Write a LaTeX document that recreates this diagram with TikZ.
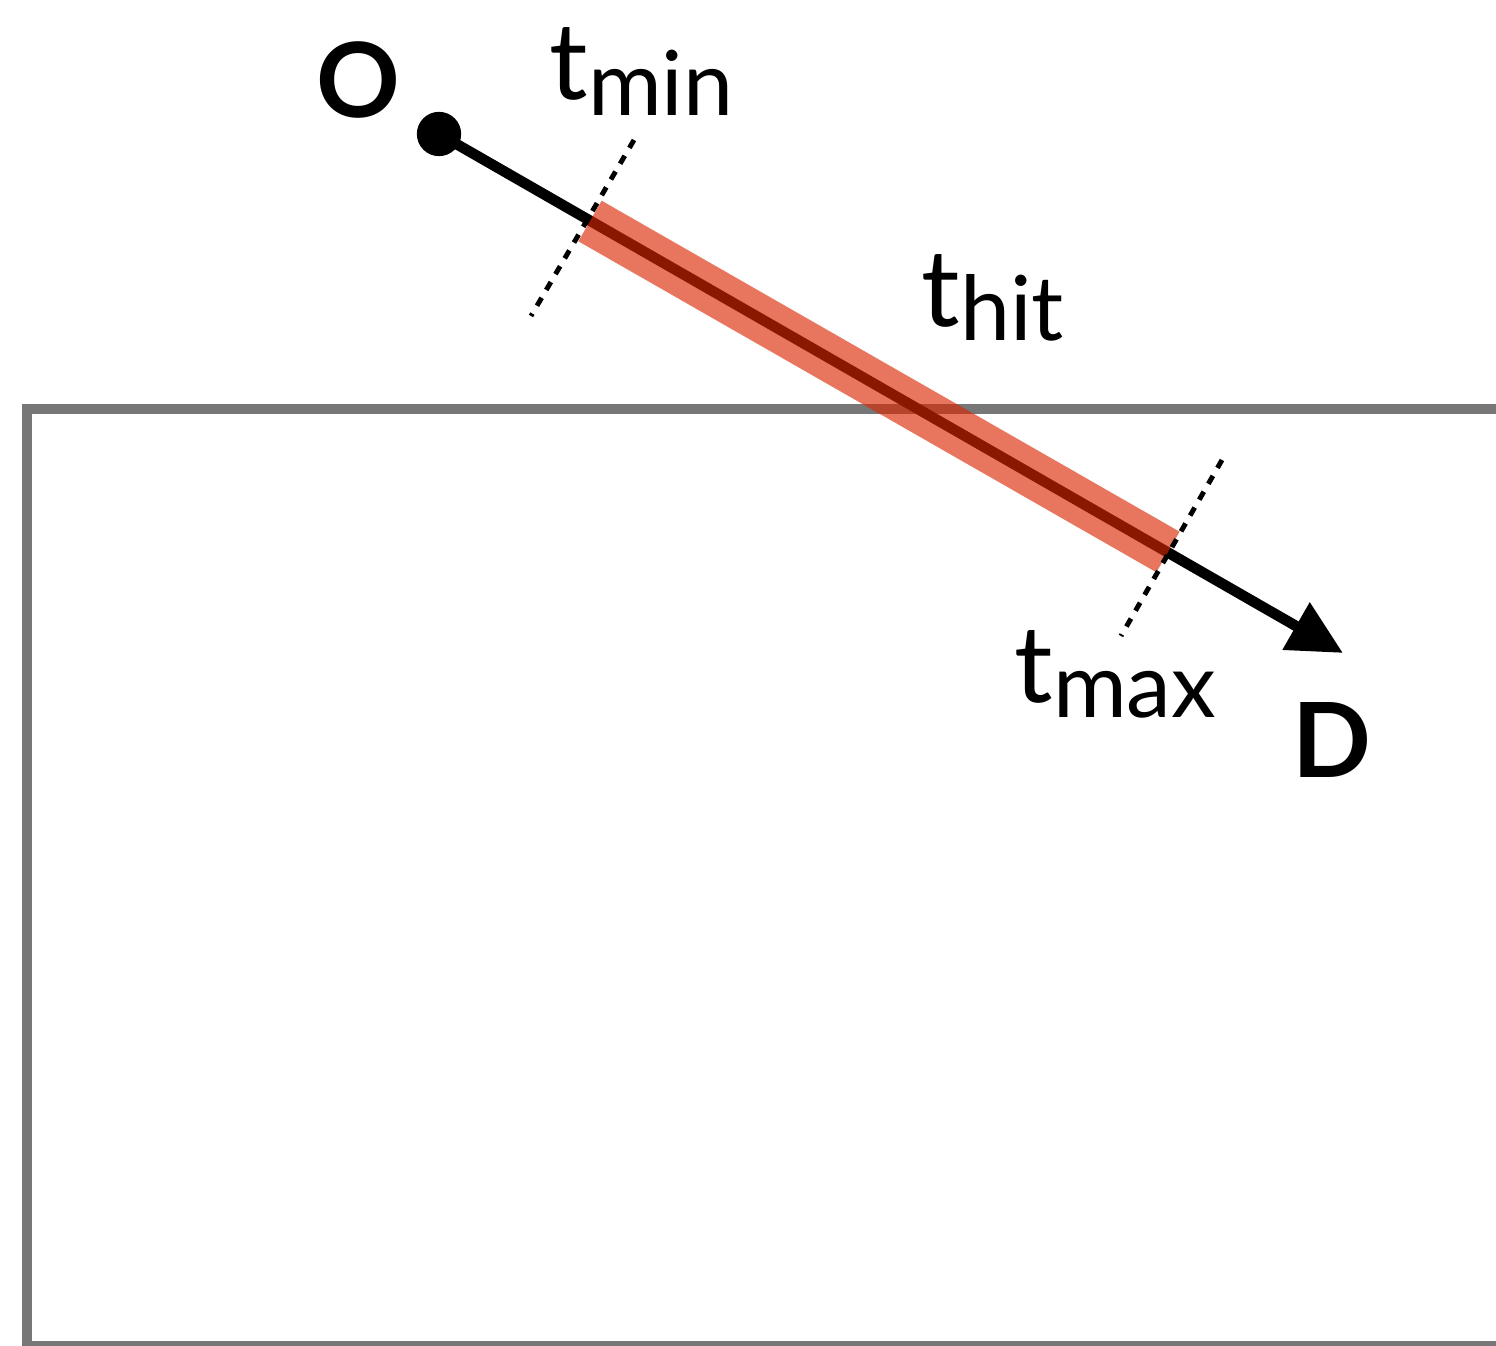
\documentclass[tikz,border=0pt]{standalone}
\usepackage{fontspec}
\setmainfont{Lato}
\usetikzlibrary{arrows.meta}
\definecolor{bandred}{RGB}{219,38,0}
\definecolor{boxgray}{RGB}{119,119,119}
\newcommand{\tlabel}[2]{{\fontsize{30.5}{30}\selectfont t}\raisebox{-#2}{\fontsize{25.5}{25}\selectfont #1}}
\begin{document}
\begin{tikzpicture}[x=0.01cm,y=-0.01cm,
  boxline/.style={draw=boxgray,line width=2.85pt},
  rayline/.style={draw=black,line width=3pt},
  hitband/.style={draw=bandred,line width=13.3pt,draw opacity=0.63},
  tick/.style={draw=black,line width=1.4pt,dash pattern=on 2.6pt off 2.6pt},
  lab/.style={inner sep=0pt,anchor=base west},
  biglab/.style={inner sep=0pt,anchor=base,font=\bfseries\fontsize{29.5}{29}\selectfont}]
\useasboundingbox (0,0) rectangle (1496,1346);
% box
\draw[boxline] (1510,409) -- (27,409) -- (27,1346) -- (1510,1346);
% ray
\node[circle,fill=black,inner sep=0pt,minimum size=12.6pt] (o) at (439,134) {};
\coordinate (d) at (1343,653);
\draw[rayline,-{Triangle[length=15.4pt,width=14.8pt]}] (o.center) -- (d);
% hit band
\coordinate (bs) at (590,221);
\coordinate (be) at (1168,552);
\draw[hitband] (bs) -- (be);
% ticks
\coordinate (m1) at (634,140);
\coordinate (m2) at (531,316);
\coordinate (x1) at (1222,460);
\coordinate (x2) at (1121,636);
\draw[tick] (m1) -- (m2);
\draw[tick] (x1) -- (x2);
% labels
\node[biglab] (olab) at (358,118) {O};
\node[biglab] (dlab) at (1332,778) {D};
\node[lab] (tmin) at (549,100) {\tlabel{min}{4.3pt}};
\node[lab] (thit) at (921,327) {\tlabel{hit}{3.7pt}};
\node[lab] (tmax) at (1014,703) {\tlabel{max}{4.0pt}};
\end{tikzpicture}
\end{document}
